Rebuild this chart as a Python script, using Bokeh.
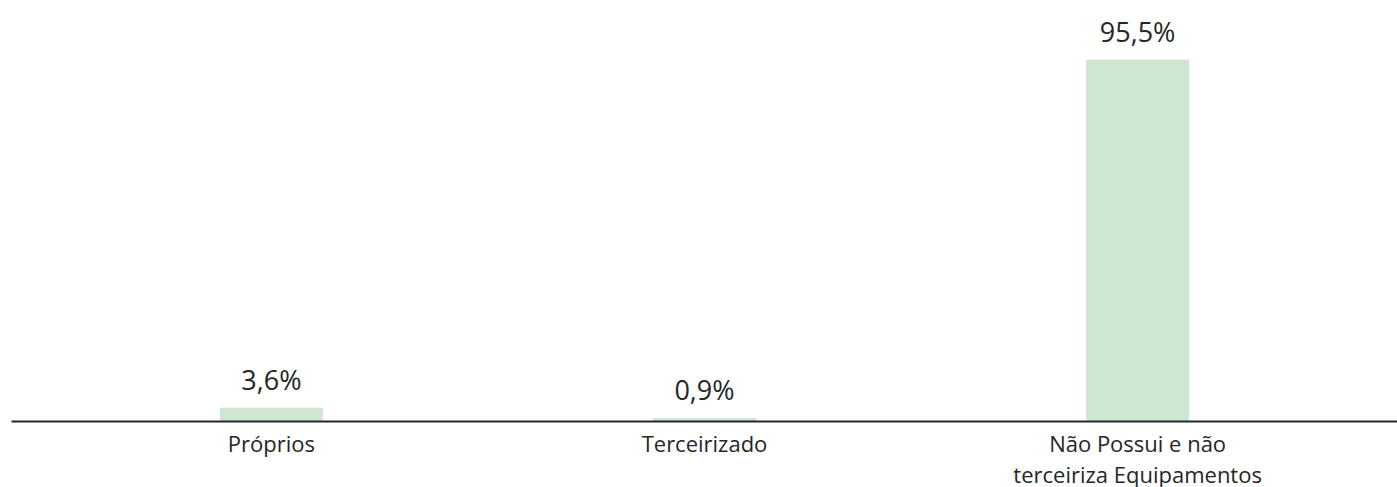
from bokeh.plotting import figure
from bokeh.models import ColumnDataSource, FactorRange, Range1d, LabelSet
from bokeh.core.properties import value
from bokeh.embed import file_html
from bokeh.resources import INLINE

categories = ["Próprios", "Terceirizado", "Não Possui e não\nterceiriza Equipamentos"]
values = [3.6, 0.9, 95.5]
labels = [f"{v:.1f}".replace(".", ",") + "%" for v in values]

src = ColumnDataSource(data=dict(cat=categories, val=values, lab=labels))

p = figure(
    x_range=FactorRange(factors=categories, range_padding=0.1, range_padding_units="absolute"),
    y_range=Range1d(0, 109),
    frame_width=1386, frame_height=413,
    min_border_left=11, min_border_right=0, min_border_top=8, min_border_bottom=10,
    output_backend="svg", toolbar_location=None,
    y_axis_location=None,
)
p.vbar(x="cat", top="val", width=0.238, source=src, fill_color="#cfe7d0", line_color=None)

lbl = LabelSet(x="cat", y="val", text="lab", source=src, text_align="center",
               text_baseline="bottom", y_offset=10, text_font=value("Open Sans"),
               text_font_size="27px", text_color="#262626")
p.add_layout(lbl)

p.xgrid.grid_line_color = None
p.ygrid.grid_line_color = None
p.outline_line_color = None
p.xaxis.axis_line_color = "#262626"
p.xaxis.axis_line_width = 2
p.xaxis.major_tick_line_color = None
p.xaxis.minor_tick_line_color = None
p.xaxis.major_label_standoff = 0
p.xaxis.major_label_text_font = "Open Sans"
p.xaxis.major_label_text_font_size = "22px"
p.xaxis.major_label_text_color = "#262626"
p.xaxis.major_label_text_line_height = 1.05

open("out.html", "w").write(file_html(p, INLINE))
